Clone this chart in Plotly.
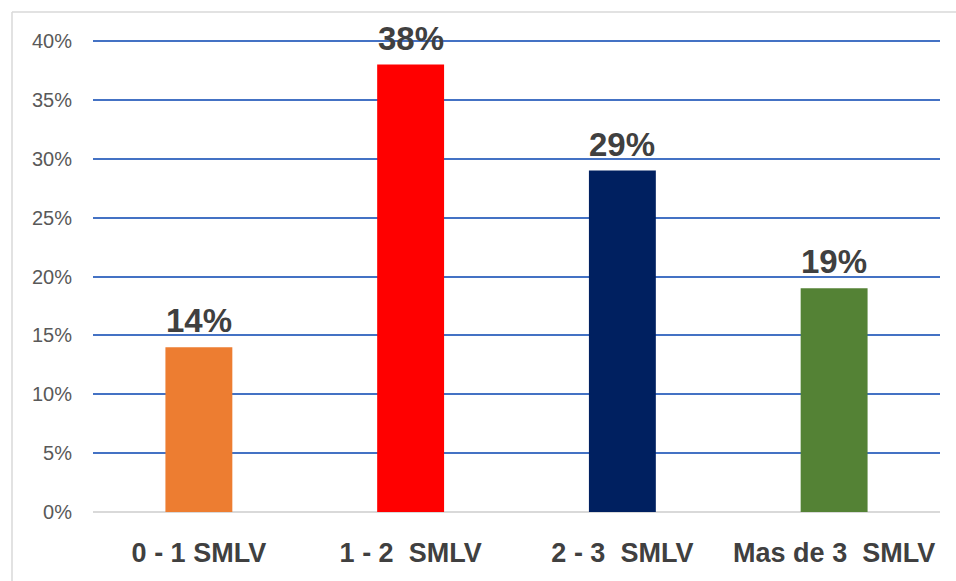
import plotly.graph_objects as go

categories = ["0 - 1 SMLV", "1 - 2  SMLV", "2 - 3  SMLV", "Mas de 3  SMLV"]
values = [0.14, 0.38, 0.29, 0.19]
colors = ["#ED7D31", "#FF0000", "#002060", "#548235"]
tick_vals = [0, 0.05, 0.10, 0.15, 0.20, 0.25, 0.30, 0.35, 0.40]

W, H = 956, 581
L, R, T, B = 93, W - 940, 38, H - 512
Y_MAX = 0.40255  # a little headroom so the 40% gridline is drawn

FONT = "Liberation Sans, Arial, sans-serif"

fig = go.Figure()
fig.add_trace(go.Bar(
    x=categories, y=values, marker=dict(color=colors, line=dict(width=0)),
    width=0.316, hoverinfo="skip",
))

for c, v in zip(categories, values):
    fig.add_annotation(
        x=c, y=v, text=f"<b>{round(v*100)}%</b>", showarrow=False,
        yanchor="bottom", yshift=6,
        font=dict(family=FONT, size=33, color="#404040"),
    )

# chart frame: only top and left edges are visible in the window
pw = W - L - R
ph = H - T - B
fx0 = (12 - L) / pw
fy1 = 1 + (T - 12) / ph
frame = dict(color="#D9D9D9", width=1.5)
fig.add_shape(type="line", xref="paper", yref="paper",
              x0=fx0, x1=(W + 20 - L) / pw, y0=fy1, y1=fy1, line=frame, layer="below")
fig.add_shape(type="line", xref="paper", yref="paper",
              x0=fx0, x1=fx0, y0=fy1, y1=-(H + 20 - T - ph) / ph, line=frame, layer="below")

fig.update_layout(
    width=W, height=H, margin=dict(l=L, r=R, t=T, b=B, autoexpand=False),
    paper_bgcolor="white", plot_bgcolor="white", showlegend=False,
    font=dict(family=FONT),
)
fig.update_xaxes(
    showgrid=False, showline=False, zeroline=False,
    tickfont=dict(size=27, color="#404040", family=FONT),
    tickprefix="<b>", ticksuffix="</b>", ticklabelstandoff=22,
)
fig.update_yaxes(
    range=[0, Y_MAX], tickvals=tick_vals, tickformat=".0%",
    showgrid=True, gridcolor="#4472C4", gridwidth=1.5,
    zeroline=True, zerolinecolor="#D9D9D9", zerolinewidth=2,
    showline=False,
    tickfont=dict(size=20, color="#595959", family=FONT),
    ticklabelstandoff=20,
)

fig.write_html(
    "out.html",
    config={"displayModeBar": False},
    post_script="document.body.style.margin='0';document.body.style.overflow='hidden';",
)
